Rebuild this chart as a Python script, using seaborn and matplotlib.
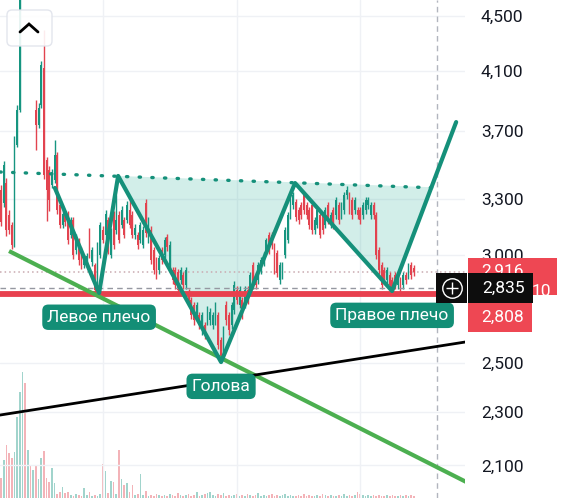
import numpy as np
import matplotlib
matplotlib.use("Agg")
import matplotlib.pyplot as plt
import seaborn as sns
from matplotlib.patches import Rectangle, FancyBboxPatch
from matplotlib.transforms import blended_transform_factory, IdentityTransform
from matplotlib.lines import Line2D
from matplotlib.ticker import NullLocator, FixedLocator

sns.set_theme(style="white")
plt.rcParams['font.family'] = ['Roboto', 'DejaVu Sans']

# ---------------- data ----------------
opens = [3350, 3276, 3390, 3210, 3157, 3077, 3615, 3835, 4781, 5117,
         4863, 5030, 4701, 3835, 3740, 3869, 4119, 3524, 3465, 3378,
         3407, 3554, 3265, 3157, 3216, 3216, 3104, 3183, 3026, 3077,
         3026, 2950, 2965, 3119, 2965, 2950, 2852, 3000, 3130, 3104,
         3183, 3000, 3210, 3130, 3210, 3157, 3183, 3183, 3238, 3210,
         3104, 3104, 3077, 3051, 3276, 3077, 3130, 3026, 2975, 2925,
         3026, 3000, 3093, 2950, 2925, 2925, 2915, 2876, 2901, 2852,
         2818, 2780, 2757, 2710, 2710, 2643, 2665, 2687, 2687, 2665,
         2687, 2710, 2598, 2555, 2757, 2710, 2665, 2734, 2828, 2757,
         2780, 2757, 2828, 2828, 2950, 2901, 2876, 2925, 2965, 3026,
         3104, 3104, 3051, 3010, 2876, 2901, 3000, 3077, 3210, 3265,
         3280, 3238, 3265, 3321, 3265, 3238, 3265, 3130, 3157, 3210,
         3210, 3157, 3265, 3157, 3238, 3210, 3265, 3210, 3238, 3321,
         3321, 3293, 3238, 3238, 3238, 3210, 3238, 3265, 3210, 3265,
         3210, 3026, 2950, 2925, 2876, 2901, 2876, 2901, 2852, 2876,
         2852, 2901, 2901, 2950, 2935]
closes = [3173, 3494, 3130, 3130, 3051, 3646, 3835, 4781, 5117, 4863,
          5030, 4701, 4946, 3740, 3849, 4140, 3436, 3350, 3293, 3453,
          3554, 3238, 3157, 3216, 3170, 3077, 3183, 3000, 3093, 2975,
          2950, 2985, 2995, 3000, 3026, 2828, 3051, 3157, 3077, 3216,
          3026, 3119, 3051, 3183, 3077, 3238, 3104, 3265, 3157, 3104,
          3140, 3051, 3157, 3130, 3114, 3183, 2975, 2925, 2901, 2985,
          2975, 3077, 3041, 3051, 2876, 2852, 2828, 2925, 2852, 2925,
          2780, 2710, 2687, 2757, 2665, 2710, 2620, 2734, 2724, 2710,
          2757, 2576, 2520, 2643, 2687, 2643, 2757, 2852, 2780, 2828,
          2710, 2828, 2780, 2901, 2852, 2852, 2950, 2975, 3000, 3077,
          3026, 3051, 2925, 2910, 2950, 2950, 3130, 3210, 3293, 3321,
          3200, 3183, 3210, 3238, 3210, 3157, 3130, 3183, 3238, 3104,
          3130, 3238, 3183, 3210, 3157, 3293, 3183, 3265, 3321, 3350,
          3238, 3210, 3293, 3210, 3183, 3265, 3293, 3293, 3265, 3210,
          3000, 2925, 2852, 2876, 2925, 2852, 2828, 2852, 2901, 2828,
          2901, 2876, 2935, 2901, 2916]
highs = [3380, 3520, 3420, 3235, 3175, 3670, 3870, 4950, 5150, 5140,
         5060, 5050, 4990, 3900, 3880, 4170, 4390, 3540, 3490, 3470,
         3645, 3570, 3280, 3240, 3230, 3230, 3200, 3200, 3110, 3090,
         3040, 3000, 3010, 3140, 3040, 2960, 3065, 3175, 3150, 3240,
         3200, 3140, 3230, 3320, 3230, 3260, 3200, 3290, 3295, 3230,
         3160, 3120, 3170, 3150, 3300, 3200, 3150, 3040, 2990, 3000,
         3040, 3095, 3110, 3070, 2940, 2940, 2930, 2940, 2915, 2940,
         2830, 2795, 2770, 2770, 2725, 2725, 2680, 2750, 2740, 2725,
         2770, 2725, 2610, 2660, 2775, 2725, 2770, 2870, 2845, 2845,
         2795, 2845, 2845, 2915, 2965, 2915, 2965, 2990, 3015, 3090,
         3120, 3120, 3060, 3025, 2965, 2965, 3145, 3225, 3310, 3340,
         3300, 3255, 3280, 3340, 3280, 3255, 3280, 3200, 3255, 3225,
         3225, 3255, 3280, 3225, 3255, 3310, 3280, 3280, 3340, 3370,
         3340, 3310, 3310, 3255, 3255, 3280, 3310, 3310, 3280, 3280,
         3225, 3040, 2965, 2940, 2940, 2915, 2890, 2915, 2915, 2890,
         2915, 2915, 2960, 2965, 2950]
lows = [3150, 3255, 3100, 3110, 3030, 3040, 3600, 3820, 4760, 4840,
        4840, 4680, 4650, 3585, 3720, 3850, 3410, 3180, 3230, 3360,
        3390, 3215, 3140, 3140, 3150, 3055, 3085, 2980, 3005, 2950,
        2930, 2935, 2940, 2985, 2945, 2804, 2840, 2985, 3060, 3085,
        3005, 2985, 3030, 3110, 3060, 3140, 3085, 3165, 3140, 3085,
        3080, 3030, 3060, 3035, 3095, 3060, 2955, 2905, 2880, 2905,
        2955, 2985, 3020, 2930, 2855, 2830, 2810, 2855, 2830, 2830,
        2760, 2690, 2665, 2690, 2645, 2620, 2600, 2665, 2665, 2645,
        2665, 2560, 2503, 2535, 2665, 2620, 2645, 2715, 2760, 2740,
        2690, 2740, 2760, 2810, 2830, 2830, 2855, 2905, 2945, 3005,
        3005, 3030, 2905, 2890, 2855, 2880, 2985, 3060, 3190, 3245,
        3180, 3160, 3190, 3215, 3190, 3135, 3110, 3110, 3140, 3085,
        3110, 3140, 3160, 3140, 3135, 3190, 3160, 3190, 3215, 3300,
        3215, 3190, 3215, 3190, 3160, 3190, 3215, 3245, 3190, 3190,
        2980, 2905, 2830, 2855, 2855, 2830, 2810, 2830, 2830, 2810,
        2830, 2855, 2880, 2880, 2895]
volumes = [200, 380, 530, 450, 400, 460, 810, 1060, 1260, 1150,
           480, 330, 280, 320, 190, 400, 470, 200, 160, 300,
           150, 40, 60, 110, 50, 60, 30, 20, 40, 30,
           20, 100, 30, 60, 20, 30, 20, 40, 340, 270,
           50, 170, 160, 40, 480, 190, 130, 150, 60, 130,
           30, 40, 240, 30, 70, 20, 30, 20, 40, 30,
           20, 30, 20, 40, 30, 20, 50, 30, 20, 30,
           40, 20, 30, 60, 20, 30, 40, 50, 60, 30,
           20, 40, 30, 50, 20, 30, 20, 30, 40, 20,
           30, 20, 40, 30, 20, 30, 50, 20, 30, 20,
           30, 40, 20, 30, 20, 30, 40, 20, 30, 20,
           20, 30, 20, 40, 20, 30, 20, 20, 30, 20,
           40, 30, 20, 30, 20, 20, 30, 20, 40, 20,
           30, 20, 30, 60, 40, 30, 20, 30, 20, 30,
           20, 30, 20, 20, 30, 20, 30, 20, 20, 30,
           20, 30, 20, 30, 20]

# drawing-tool anchors (bar index, price)
hs_idx = [20.1, 36.6, 43.7, 82.1, 109.7, 145.9, 169.8]
hs_price = [3361, 2813, 3430, 2502, 3389, 2822, 3758]
fill_idx = [43.7, 82.1, 109.7, 145.9, 160.6]
fill_price = [3430, 2502, 3389, 2822, 3365]
neck_idx = [-0.4, 162.7]
neck_price = [3453, 3361]
support_idx = [3.0, 173.5]
support_price = [3020, 2042]
trend_idx = [-0.4, 173.5]
trend_price = [2287, 2589]
level_price = 2808
cross_price = 2835
cross_idx = 162.7
last_price = 2916
countdown_tail = "10"
yticks = [2100, 2300, 2500, 3000, 3300, 3700, 4100, 4500]
pattern_labels = ["Левое плечо", "Голова", "Правое плечо"]
pattern_label_pts = [1, 3, 5]

# ---------------- styling ----------------
UP = '#169580'
DOWN = '#e2434f'
TEAL = '#15907a'
LABEL_BG = '#138e76'
RED_LBL = '#ee4753'
FS = 12.5

W, H = 563, 498
fig = plt.figure(figsize=(W / 100, H / 100), dpi=100)
rect = [0, 0, 465 / W, 1]
ax_vol = fig.add_axes(rect)
ax = fig.add_axes(rect, sharex=ax_vol)
ax_vol.set_zorder(0)
ax.set_zorder(1)
ax.patch.set_visible(False)

o = np.array(opens, float)
c = np.array(closes, float)
hi = np.array(highs, float)
lo = np.array(lows, float)
vol = np.array(volumes, float)
x = np.arange(len(o))
up = c >= o
cols = np.where(up, UP, DOWN)

# volume
ax_vol.bar(x, vol, width=0.62, color=cols, alpha=0.4, linewidth=0)
ax_vol.set_ylim(0, 4980)
ax_vol.set_xlim(-0.37, 173.1)
ax_vol.axis('off')

# price axis
ax.set_yscale('log')
ax.set_ylim(1987, 4622)
ax.set_xlim(-0.37, 173.1)

# grid
for v in yticks:
    ax.axhline(v, color='#eff1f5', lw=1, zorder=0.5)
for gx in [38, 88, 134]:
    ax.axvline(gx, color='#eff1f5', lw=1, zorder=0.5)

# H&S fill
ax.fill(fill_idx, fill_price, color='#22ab94', alpha=0.2, lw=0, zorder=1)

# candles
ax.vlines(x, lo, hi, colors=cols, lw=1.0, zorder=3)
body_lo = np.minimum(o, c)
body_h = np.maximum(np.abs(c - o), 3)
ax.bar(x, body_h, bottom=body_lo, width=0.66, color=cols, linewidth=0, zorder=3.1)

# horizontal levels
ax.axhline(last_price, color='#c9aab0', lw=1.1, ls=(0, (1, 2)), zorder=2)
ax.axhline(cross_price, color='#9598a1', lw=1.0, ls=(0, (4, 3)), zorder=4)
ax.axvline(cross_idx, color='#b2b5be', lw=1.0, ls=(0, (4, 3)), zorder=4)
ax.axhline(level_price, color='#e8404e', lw=4.2, zorder=4.2)

# trend lines
ax.plot(support_idx, support_price, color='#4caf50', lw=3.0, zorder=4.5, solid_capstyle='butt')
ax.plot(trend_idx, trend_price, color='#000000', lw=2.0, zorder=4.5)
ax.plot(neck_idx, neck_price, color=TEAL, lw=2.4, ls=(0, (0.4, 3.4)),
        dash_capstyle='round', zorder=4.6)
sns.lineplot(x=hs_idx, y=hs_price, sort=False, estimator=None, ax=ax,
             color=TEAL, lw=3.0, zorder=5, legend=False)

# pattern labels
for txt, k in zip(pattern_labels, pattern_label_pts):
    ax.annotate(txt, xy=(hs_idx[k], hs_price[k]), xytext=(0, -17.5),
                textcoords='offset points', ha='center', va='center',
                fontsize=FS, color='white', zorder=7,
                bbox=dict(boxstyle='round,pad=0.3,rounding_size=0.35',
                          fc=LABEL_BG, ec='none'))

# y ticks on right
ax.yaxis.set_major_locator(FixedLocator(yticks))
ax.yaxis.set_minor_locator(NullLocator())
ax.set_yticklabels([f"{v:,}" for v in yticks])
ax.yaxis.tick_right()
ax.tick_params(axis='y', length=0, pad=11.5, labelsize=FS, colors='#131722')
ax.set_xticks([])
for s in ax.spines.values():
    s.set_visible(False)
ax.grid(False)

# right side price labels
tr = blended_transform_factory(ax.transAxes, ax.transData)
def px2ax(p):
    return p / 465.0

def pr(center, dpx):
    return center * np.exp(dpx / 590.0)

ax.add_patch(Rectangle((px2ax(468), pr(last_price, -23)), px2ax(557) - px2ax(468),
                       pr(last_price, 14) - pr(last_price, -23), transform=tr,
                       fc=RED_LBL, ec='none', clip_on=False, zorder=10))
ax.text(px2ax(503), last_price, f"{last_price:,}", transform=tr, color='white',
        fontsize=FS, ha='center', va='center', clip_on=False, zorder=10.5)
ax.text(px2ax(551), pr(last_price, -20), countdown_tail, transform=tr, color='white',
        fontsize=FS, ha='right', va='center', clip_on=False, zorder=10.5)

ax.add_patch(Rectangle((px2ax(468), pr(level_price, -38)), px2ax(532) - px2ax(468),
                       pr(level_price, -6) - pr(level_price, -38), transform=tr,
                       fc=RED_LBL, ec='none', clip_on=False, zorder=10))
ax.text(px2ax(503), pr(level_price, -23), f"{level_price:,}", transform=tr,
        color='white', fontsize=FS, ha='center', va='center', clip_on=False, zorder=10.5)

ax.add_patch(Rectangle((px2ax(436), pr(cross_price, -15)), px2ax(466.5) - px2ax(436),
                       pr(cross_price, 15) - pr(cross_price, -15), transform=tr,
                       fc='#0d0d0d', ec='none', clip_on=False, zorder=11))
ax.add_patch(Rectangle((px2ax(468), pr(cross_price, -15)), px2ax(533) - px2ax(468),
                       pr(cross_price, 15) - pr(cross_price, -15), transform=tr,
                       fc='#0d0d0d', ec='none', clip_on=False, zorder=11))
ax.text(px2ax(504), cross_price, f"{cross_price:,}", transform=tr, color='white',
        fontsize=FS, ha='center', va='center', clip_on=False, zorder=11.5)
ax.plot([px2ax(452)], [cross_price], transform=tr, marker='o', ms=14,
        mfc='none', mec='white', mew=1.0, clip_on=False, zorder=11.5)
ax.plot([px2ax(452)], [cross_price], transform=tr, marker='+', ms=9,
        mec='white', mew=1.0, clip_on=False, zorder=11.5)

# top-left collapse button (UI decoration, pixel coords)
btn = FancyBboxPatch((7, H - 46), 45, 36, boxstyle='round,pad=0,rounding_size=5',
                     transform=IdentityTransform(), fc='white', ec='#e0e3eb',
                     lw=1.0, alpha=0.9, zorder=20)
fig.patches.append(btn)
fig.lines.append(Line2D([20, 29, 38], [H - 32, H - 24, H - 32], color='black',
                        lw=2.0, transform=IdentityTransform(), zorder=21,
                        solid_capstyle='round', solid_joinstyle='miter'))

fig.savefig('out.png', dpi=100)
